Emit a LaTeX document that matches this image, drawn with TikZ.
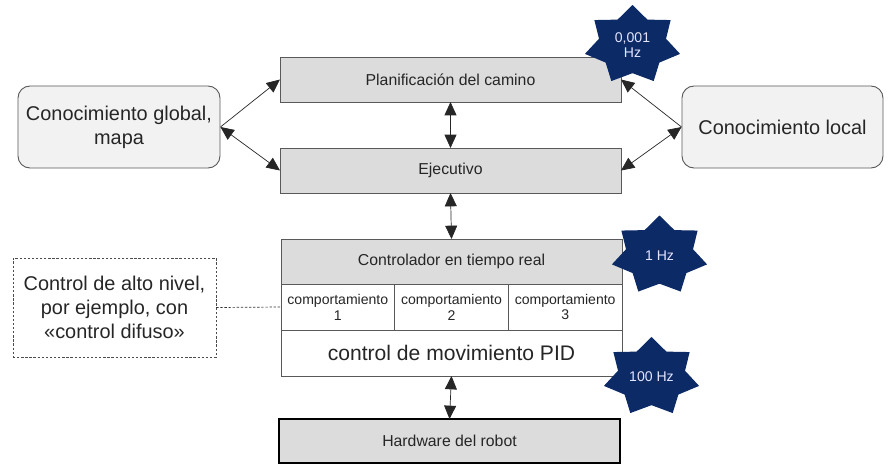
\documentclass[tikz,border=0pt]{standalone}
\usepackage{fontspec}
\setmainfont{Liberation Sans}
\usetikzlibrary{positioning,shapes.geometric,arrows.meta}

\definecolor{boxgray}{HTML}{DCDCDC}
\definecolor{softgray}{HTML}{F2F2F2}
\definecolor{navystar}{HTML}{0B2A66}
\definecolor{txtgray}{HTML}{262626}

\tikzset{
  layer/.style={draw=black!65, fill=boxgray, line width=0.8pt, outer sep=0pt,
                minimum width=10.23cm, minimum height=1.35cm, text=txtgray,
                font=\fontsize{13.5}{16}\selectfont},
  behav/.style={draw=black!65, fill=white, line width=0.8pt, outer sep=0pt,
                minimum width=3.41cm, minimum height=1.38cm, inner sep=0pt,
                align=center, text=txtgray, font=\fontsize{12}{13.6}\selectfont},
  knowbox/.style={draw=black!65, fill=softgray, rounded corners=0.36cm,
                  line width=0.8pt, minimum height=2.46cm, align=center,
                  text=txtgray, font=\fontsize{17}{20.4}\selectfont},
  freqstar/.style={star, star points=7, star point ratio=1.42, fill=navystar,
                   minimum size=2.4cm, inner sep=0pt, xscale=1.22, transform shape},
  freqtext/.style={align=center, inner sep=0pt, text=white!90!blue,
                   font=\fontsize{12}{12.8}\selectfont},
  biarrow/.style={{Triangle[length=4mm,width=3.6mm]}-{Triangle[length=4mm,width=3.6mm]},
                  draw=black!85, line width=0.6pt},
  uparrow/.style={-{Triangle[length=4mm,width=3.6mm]}, draw=black!85, line width=0.6pt}
}

\begin{document}
\begin{tikzpicture}[x=0.03cm, y=-0.03cm]
  \useasboundingbox (0,0) rectangle (893,476);

  % levels of the architecture
  \node[layer] (plan) at (450.5,79.5) {Planificación del camino};
  \node[layer] (ejec) at (450.5,170.5) {Ejecutivo};
  \node[layer] (ctrl) at (451.5,261.5) {Controlador en tiempo real};
  \node[behav, below right=0pt of ctrl.south west] (beh1) {comportamiento\\1};
  \node[behav, right=0pt of beh1] (beh2) {comportamiento\\2};
  \node[behav, right=0pt of beh2] (beh3) {comportamiento\\3};
  \node[layer, fill=white, minimum height=1.38cm, font=\fontsize{18}{20}\selectfont,
        below right=0pt of beh1.south west] (pid) {control de movimiento PID};
  \node[layer, draw=black, line width=2.2pt, minimum width=10.23cm, minimum height=1.32cm]
        (hw) at (449.5,441) {Hardware del robot};

  % knowledge
  \node[knowbox, minimum width=6.06cm] (glob) at (119,127) {Conocimiento global,\\mapa};
  \node[knowbox, minimum width=6.03cm] (loc) at (782.5,127) {Conocimiento local};

  % annotation
  \node[draw=black!70, dash pattern=on 2pt off 1.5pt, minimum width=6.09cm,
        minimum height=2.97cm, align=center, text=txtgray,
        font=\fontsize{17}{20.8}\selectfont]
        (fuzzy) at (114.5,307.5) {Control de alto nivel,\\por ejemplo, con\\«control difuso»};
  \draw[black!80, dash pattern=on 2pt off 1.5pt, line width=0.6pt] (fuzzy.east) -- (beh1.west);

  % connections
  \draw[uparrow] (glob.east) -- (plan.west);
  \draw[biarrow] (glob.east) -- (ejec.west);
  \draw[uparrow] (loc.west) -- (plan.east);
  \draw[biarrow] (loc.west) -- (ejec.east);
  \draw[biarrow] (plan.south) -- (ejec.north);
  \draw[biarrow] (ejec.south) -- (ctrl.north);
  \draw[biarrow] (pid.south) -- (hw.north);

  % rates
  \node[freqstar] (f1) at (632.5,45) {};
  \node[freqtext] (f1t) at (f1) {0,001\\Hz};
  \node[freqstar] (f2) at (659.5,255.5) {};
  \node[freqtext] (f2t) at (f2) {1 Hz};
  \node[freqstar] (f3) at (651.5,377) {};
  \node[freqtext] (f3t) at (f3) {100 Hz};
\end{tikzpicture}
\end{document}
